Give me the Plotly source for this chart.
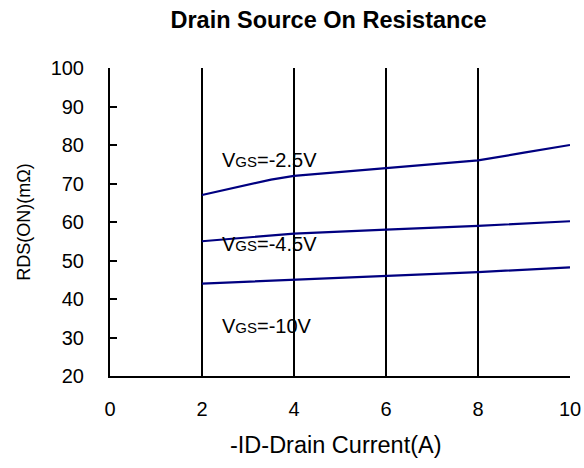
import plotly.graph_objects as go

current = [2, 3.5, 4, 6, 8, 9, 10]
r_vgs25 = [67, 71, 72, 74, 76, 78, 80]
current_b = [2, 4, 6, 8, 10]
r_vgs45 = [55, 57, 58, 59, 60.2]
r_vgs10 = [44, 45, 46, 47, 48.2]

labels = ["V<span style='font-size:15px'>GS</span>=-2.5V",
          "V<span style='font-size:15px'>GS</span>=-4.5V",
          "V<span style='font-size:15px'>GS</span>=-10V"]
label_y = [76.1, 54.3, 33.0]

FONT = "Liberation Sans, Arial, sans-serif"
NAVY = "#000080"

fig = go.Figure()
fig.add_trace(go.Scatter(x=current, y=r_vgs25, mode="lines", line=dict(color=NAVY, width=2.2)))
fig.add_trace(go.Scatter(x=current_b, y=r_vgs45, mode="lines", line=dict(color=NAVY, width=2.2)))
fig.add_trace(go.Scatter(x=current_b, y=r_vgs10, mode="lines", line=dict(color=NAVY, width=2.2)))

for t, yv in zip(labels, label_y):
    fig.add_annotation(x=2.39, y=yv, text=t, showarrow=False, xanchor="left", yanchor="middle",
                       font=dict(family=FONT, size=20, color="black"))

# x-axis title (slightly left of axis centre, as in the reference)
fig.add_annotation(x=0.491, y=-0.224, xref="paper", yref="paper", text="-ID-Drain Current(A)",
                   showarrow=False, xanchor="center", yanchor="middle",
                   font=dict(family=FONT, size=23.5, color="black"))

fig.update_layout(
    width=584, height=468,
    margin=dict(l=110, r=14, t=68, b=92),
    plot_bgcolor="white", paper_bgcolor="white",
    showlegend=False,
    font=dict(family=FONT, color="black"),
    title=dict(text="<b>Drain Source On Resistance</b>", x=0.5625, xanchor="center", y=0.957, yanchor="middle",
               font=dict(family=FONT, size=23.5, color="black")),
    xaxis=dict(range=[0, 10], tickvals=[0, 2, 4, 6, 8, 10], showgrid=True, gridcolor="black", gridwidth=2,
               showline=True, linecolor="black", linewidth=2, ticks="inside", ticklen=6, tickcolor="black",
               tickwidth=2, zeroline=False, tickfont=dict(size=20), ticklabelstandoff=14, automargin=False),
    yaxis=dict(range=[20, 100], tickvals=list(range(20, 101, 10)), showgrid=False,
               showline=True, linecolor="black", linewidth=2, ticks="inside", ticklen=7, tickcolor="black",
               tickwidth=2, zeroline=False, tickfont=dict(size=20), ticklabelstandoff=20, automargin=False,
               title=dict(text="RDS(ON)(mΩ)", font=dict(size=18), standoff=15)),
)

fig.write_html("out.html", config={"displayModeBar": False},
               post_script="document.body.style.margin='0';document.documentElement.style.overflow='hidden';")
